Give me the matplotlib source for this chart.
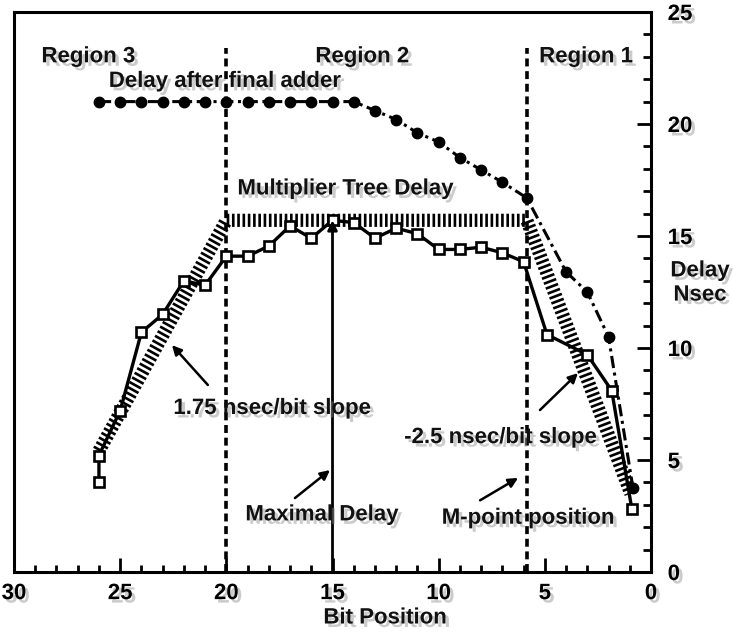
import matplotlib
matplotlib.use("Agg")
import matplotlib.pyplot as plt
import matplotlib.patheffects as pe
from matplotlib.ticker import MultipleLocator

plt.rcParams["font.family"] = ["Liberation Sans", "DejaVu Sans"]
plt.rcParams["font.weight"] = "bold"

# ------------------------------------------------------------
# data (bit position vs delay in nsec)
# ------------------------------------------------------------
bits_adder = [26, 25, 24, 23, 22, 21, 20, 19, 18, 17, 16, 15, 14,
              13, 12, 11, 10, 9, 8, 7, 5.85, 4, 3, 2, 0.85]
delay_adder = [21.0, 21.0, 21.0, 21.0, 21.0, 21.0, 21.0, 21.0, 21.0, 21.0, 21.0, 21.0, 21.0,
               20.6, 20.2, 19.6, 19.2, 18.5, 17.95, 17.4, 16.7, 13.4, 12.5, 10.5, 3.75]

bits_measured = [26, 26, 25, 24, 23, 22, 21, 20, 19, 18, 17, 16, 15, 14,
                 13, 12, 11, 10, 9, 8, 7, 6, 4.9, 3, 1.85, 0.9]
delay_measured = [4.0, 5.2, 7.2, 10.7, 11.5, 13.0, 12.8, 14.1, 14.1, 14.55, 15.45, 14.9, 15.7, 15.6,
                  14.9, 15.35, 15.1, 14.4, 14.4, 14.5, 14.25, 13.85, 10.6, 9.7, 8.1, 2.8]

bits_tree = [26, 20, 5.85, 0.95]
delay_tree = [5.4, 15.7, 15.7, 3.5]

region_edges = [20, 5.85]
max_bit = 15
max_delay = 15.7

sombra = [pe.withSimplePatchShadow(offset=(2.5, -2.5), shadow_rgbFace="0.55", alpha=0.45)]

fig = plt.figure(figsize=(7.33, 6.32), dpi=100)
ax = fig.add_axes([14 / 733, 1 - 572 / 632, (651 - 14) / 733, (572 - 12) / 632])

# limites das regioes
for xb in region_edges:
    ax.plot([xb, xb], [0, 23.4], color="black", lw=2.6, linestyle=(0, (2.2, 1.3)))

# atraso da arvore (faixa hachurada)
ax.plot(bits_tree, delay_tree, color="black", lw=9.5, linestyle=(0, (0.2, 0.2)),
        dash_capstyle="butt", solid_joinstyle="miter")

# atraso apos o somador final
ax.plot(bits_adder, delay_adder, color="black", lw=2.2, linestyle=(0, (4, 1.5, 1, 1.5)),
        marker="o", markersize=7.5, markerfacecolor="black", markeredgecolor="black")

# atraso medido
ax.plot(bits_measured, delay_measured, color="black", lw=2.4, marker="s", markersize=7,
        markerfacecolor="white", markeredgecolor="black", markeredgewidth=1.9)

# atraso maximo
ax.annotate("", xy=(max_bit, max_delay), xytext=(max_bit, 0),
            arrowprops=dict(arrowstyle="-|>", lw=2, color="black", mutation_scale=14,
                            shrinkA=0, shrinkB=0))

ax.set_xlim(30, 0)
ax.set_ylim(0, 25)

for s in ax.spines.values():
    s.set_linewidth(2.2)

ax.xaxis.set_major_locator(MultipleLocator(5))
ax.xaxis.set_minor_locator(MultipleLocator(1))
ax.yaxis.set_major_locator(MultipleLocator(5))
ax.yaxis.set_minor_locator(MultipleLocator(1))
ax.yaxis.tick_right()
ax.tick_params(axis="x", which="both", direction="in", top=False, bottom=True, width=2)
ax.tick_params(axis="x", which="major", length=10, pad=8, labelsize=16)
ax.tick_params(axis="x", which="minor", length=5)
ax.tick_params(axis="y", which="both", direction="in", left=False, right=True, width=2)
ax.tick_params(axis="y", which="major", length=10, pad=12, labelsize=16)
ax.tick_params(axis="y", which="minor", length=6)
for lab in ax.get_xticklabels() + ax.get_yticklabels():
    lab.set_fontweight("bold")
    lab.set_path_effects(sombra)

# textos
textos = [
    ("Region 3", 26.5, 23.0),
    ("Region 2", 13.6, 23.0),
    ("Region 1", 3.06, 23.0),
    ("Delay after final adder", 20.07, 21.9),
    ("Multiplier Tree Delay", 14.4, 17.1),
    ("1.75 nsec/bit slope", 17.85, 7.3),
    ("-2.5 nsec/bit slope", 7.1, 6.0),
    ("Maximal Delay", 15.5, 2.55),
    ("M-point position", 5.8, 2.4),
]
for txt, x, y in textos:
    ax.text(x, y, txt, ha="center", va="center", fontsize=16, fontweight="bold",
            color="#111111", path_effects=sombra)

# setas das anotacoes
setas = [
    ((22.56, 10.13), (20.87, 8.35)),
    ((3.44, 8.88), (5.23, 7.23)),
    ((15.12, 4.55), (16.77, 3.3)),
    ((6.26, 4.2), (8.05, 3.2)),
]
for cabeca, cauda in setas:
    ax.annotate("", xy=cabeca, xytext=cauda,
                arrowprops=dict(arrowstyle="-|>", lw=1.8, color="black", mutation_scale=14,
                                shrinkA=0, shrinkB=0))

fig.text(700 / 733, 1 - 283 / 632, "Delay\nNsec", ha="center", va="center", fontsize=16,
         fontweight="bold", color="#111111", path_effects=sombra)
fig.text(385 / 733, 1 - 618 / 632, "Bit Position", ha="center", va="center", fontsize=16,
         fontweight="bold", color="#111111", path_effects=sombra)

fig.savefig("out.png", dpi=100)
